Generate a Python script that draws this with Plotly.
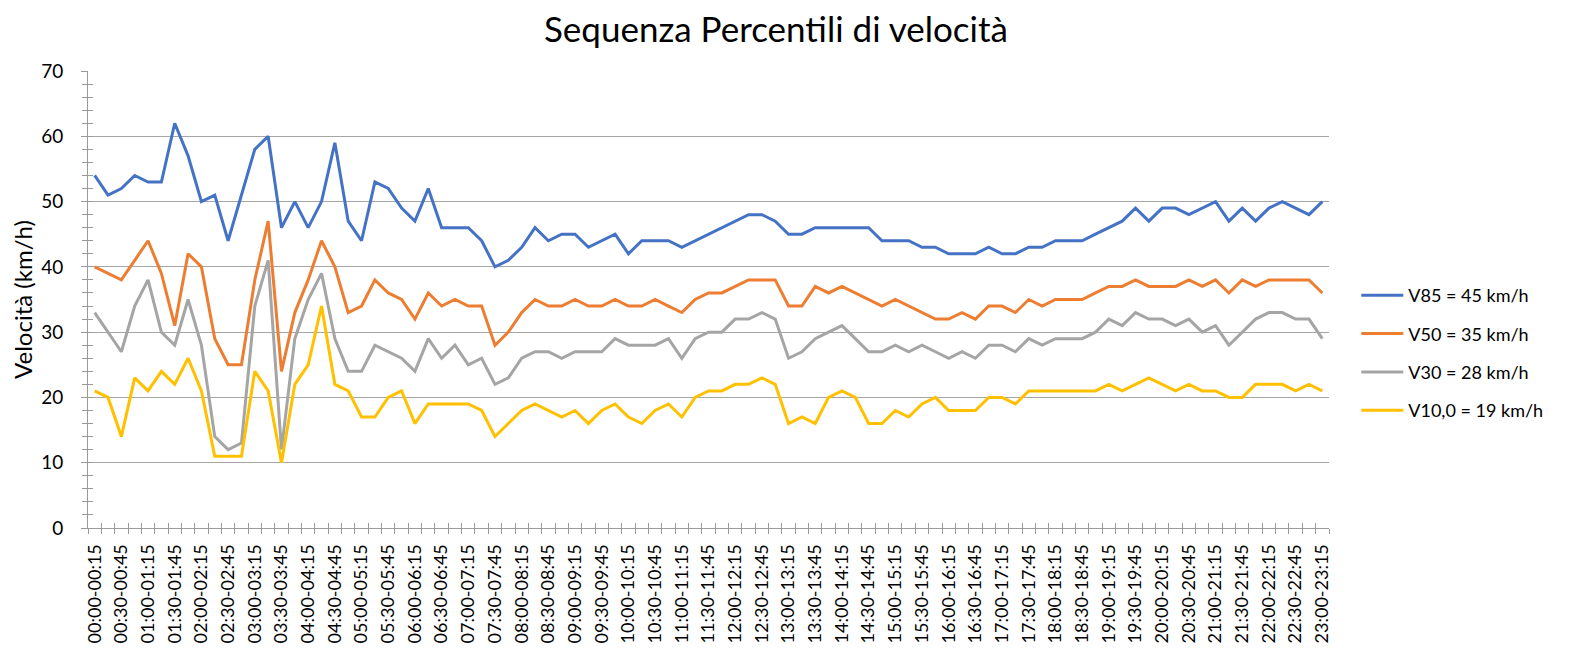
import plotly.graph_objects as go

# 15-minute slots, 00:00-00:15 ... 23:00-23:15
slots = [f"{(m // 60):02d}:{(m % 60):02d}-{((m + 15) // 60):02d}:{((m + 15) % 60):02d}"
         for m in range(0, 23 * 60 + 15, 15)]

v85 = [54, 51, 52, 54, 53, 53, 62, 57, 50, 51,
       44, 51, 58, 60, 46, 50, 46, 50, 59, 47,
       44, 53, 52, 49, 47, 52, 46, 46, 46, 44,
       40, 41, 43, 46, 44, 45, 45, 43, 44, 45,
       42, 44, 44, 44, 43, 44, 45, 46, 47, 48,
       48, 47, 45, 45, 46, 46, 46, 46, 46, 44,
       44, 44, 43, 43, 42, 42, 42, 43, 42, 42,
       43, 43, 44, 44, 44, 45, 46, 47, 49, 47,
       49, 49, 48, 49, 50, 47, 49, 47, 49, 50,
       49, 48, 50]

v50 = [40, 39, 38, 41, 44, 39, 31, 42, 40, 29,
       25, 25, 38, 47, 24, 33, 38, 44, 40, 33,
       34, 38, 36, 35, 32, 36, 34, 35, 34, 34,
       28, 30, 33, 35, 34, 34, 35, 34, 34, 35,
       34, 34, 35, 34, 33, 35, 36, 36, 37, 38,
       38, 38, 34, 34, 37, 36, 37, 36, 35, 34,
       35, 34, 33, 32, 32, 33, 32, 34, 34, 33,
       35, 34, 35, 35, 35, 36, 37, 37, 38, 37,
       37, 37, 38, 37, 38, 36, 38, 37, 38, 38,
       38, 38, 36]

v30 = [33, 30, 27, 34, 38, 30, 28, 35, 28, 14,
       12, 13, 34, 41, 12, 29, 35, 39, 29, 24,
       24, 28, 27, 26, 24, 29, 26, 28, 25, 26,
       22, 23, 26, 27, 27, 26, 27, 27, 27, 29,
       28, 28, 28, 29, 26, 29, 30, 30, 32, 32,
       33, 32, 26, 27, 29, 30, 31, 29, 27, 27,
       28, 27, 28, 27, 26, 27, 26, 28, 28, 27,
       29, 28, 29, 29, 29, 30, 32, 31, 33, 32,
       32, 31, 32, 30, 31, 28, 30, 32, 33, 33,
       32, 32, 29]

v10 = [21, 20, 14, 23, 21, 24, 22, 26, 21, 11,
       11, 11, 24, 21, 10, 22, 25, 34, 22, 21,
       17, 17, 20, 21, 16, 19, 19, 19, 19, 18,
       14, 16, 18, 19, 18, 17, 18, 16, 18, 19,
       17, 16, 18, 19, 17, 20, 21, 21, 22, 22,
       23, 22, 16, 17, 16, 20, 21, 20, 16, 16,
       18, 17, 19, 20, 18, 18, 18, 20, 20, 19,
       21, 21, 21, 21, 21, 21, 22, 21, 22, 23,
       22, 21, 22, 21, 21, 20, 20, 22, 22, 22,
       21, 22, 21]

series = [
    ("V85 = 45 km/h", v85, "#4472C4"),
    ("V50 = 35 km/h", v50, "#ED7D31"),
    ("V30 = 28 km/h", v30, "#A5A5A5"),
    ("V10,0 = 19 km/h", v10, "#FFC000"),
]

FONT = "Lato"
AX = "#9a9a9a"
x = list(range(len(slots)))

fig = go.Figure()
for i, (name, vals, col) in enumerate(series):
    fig.add_trace(go.Scatter(
        x=x, y=vals, name=name, mode="lines", legendgroup=str(i),
        line=dict(color=col, width=3),
    ))

# dummy trace so the overlay axes (inner half of the crossing ticks) get drawn
fig.add_trace(go.Scatter(x=[0], y=[None], xaxis="x2", yaxis="y2",
                         showlegend=False, hoverinfo="skip"))

xr = [-0.5, len(slots) - 0.5]

# page body has an 8px margin, so the figure is 8px smaller than the window
fig.update_layout(
    width=1572, height=643,
    plot_bgcolor="white", paper_bgcolor="white",
    font=dict(family=FONT, color="#000000"),
    margin=dict(l=80, r=251, t=63, b=123),
    title=dict(text="Sequenza Percentili di velocità", x=0.4885, xanchor="center",
               y=1.0, yanchor="top", pad=dict(t=9), font=dict(size=35, family=FONT)),
    xaxis=dict(
        range=xr, tickmode="array", tickvals=x[::2], ticktext=slots[::2],
        tickangle=-90, tickfont=dict(size=18), ticks="", showgrid=False,
        showline=True, linecolor=AX, linewidth=1, zeroline=False,
        ticklabelstandoff=8, automargin=False,
        minor=dict(ticks="outside", tick0=-0.5, dtick=1, ticklen=5,
                   tickcolor=AX, showgrid=False),
    ),
    xaxis2=dict(
        overlaying="x", anchor="y", range=xr, showticklabels=False,
        showgrid=False, zeroline=False, showline=False,
        tickmode="linear", tick0=-0.5, dtick=1, ticks="inside",
        ticklen=5, tickcolor=AX,
    ),
    yaxis=dict(
        range=[0, 70], dtick=10, tickfont=dict(size=19),
        showgrid=True, gridcolor="#a6a6a6", gridwidth=1,
        showline=True, linecolor=AX, linewidth=1, zeroline=False,
        ticks="outside", ticklen=6, tickcolor=AX, ticklabelstandoff=14,
        automargin=False,
        minor=dict(ticks="outside", dtick=2, ticklen=5, tickcolor=AX,
                   showgrid=False),
        title=dict(text="Velocità (km/h)", font=dict(size=24), standoff=10),
    ),
    yaxis2=dict(
        overlaying="y", anchor="x", range=[0, 70], showticklabels=False,
        showgrid=False, zeroline=False, showline=False,
        tickmode="linear", tick0=0, dtick=2, ticks="inside",
        ticklen=5, tickcolor=AX,
    ),
    legend=dict(
        x=1.022, xanchor="left", y=0.383, yanchor="middle",
        font=dict(size=18, family=FONT), itemwidth=42,
        tracegroupgap=12, bgcolor="rgba(0,0,0,0)",
    ),
    showlegend=True,
)

fig.write_html("out.html")
